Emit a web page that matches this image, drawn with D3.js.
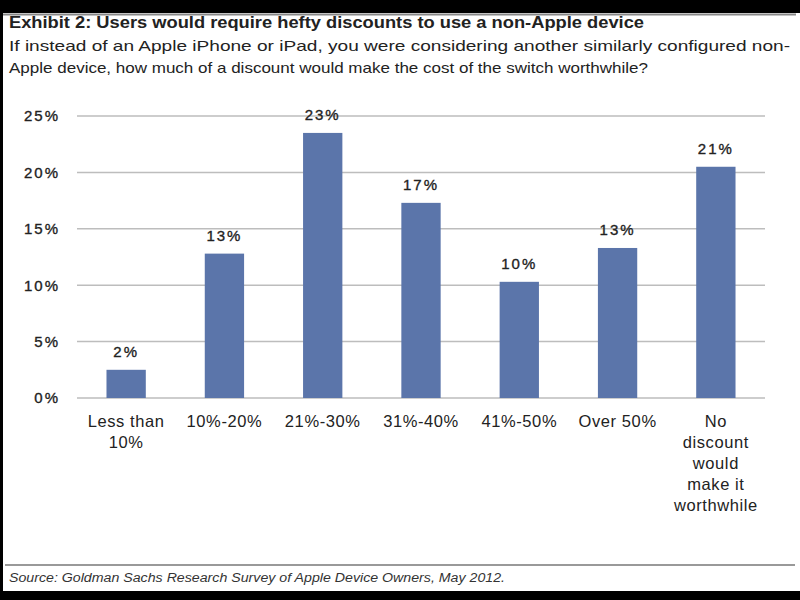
<!DOCTYPE html>
<html>
<head>
<meta charset="utf-8">
<script src="https://cdn.jsdelivr.net/npm/d3@7"></script>
<style>
  body { margin:0; background:#000; }
  svg { display:block; font-family: "Liberation Sans", Arial, sans-serif; }
</style>
</head>
<body>
<svg id="drawing_region"></svg>
<script>
const categories = ["Less than 10%", "10%-20%", "21%-30%", "31%-40%", "41%-50%", "Over 50%", "No discount would make it worthwhile"];
const categoryLines = [["Less than", "10%"], ["10%-20%"], ["21%-30%"], ["31%-40%"], ["41%-50%"], ["Over 50%"], ["No", "discount", "would", "make it", "worthwhile"]];
const values = [2.5, 12.8, 23.5, 17.3, 10.3, 13.3, 20.5];
const valueLabels = ["2%", "13%", "23%", "17%", "10%", "13%", "21%"];
const yTicks = [0, 5, 10, 15, 20, 25];

const width = 800, height = 600;
const svg = d3.select('#drawing_region')
  .attr('width', width)
  .attr('height', height);

// white page between black bands
svg.append('rect').attr('x', 0).attr('y', 0).attr('width', width).attr('height', height).attr('fill', '#000');
svg.append('rect').attr('x', 3).attr('y', 13).attr('width', width - 3).attr('height', 578).attr('fill', '#fff');
svg.append('line').attr('x1', 3).attr('x2', 796).attr('y1', 14.5).attr('y2', 14.5)
  .attr('stroke', '#888').attr('stroke-width', 2);

// titles
svg.append('text').attr('x', 9).attr('y', 28)
  .attr('font-size', 16).attr('font-weight', 'bold').attr('fill', '#222')
  .attr('textLength', 635).attr('lengthAdjust', 'spacingAndGlyphs')
  .text('Exhibit 2: Users would require hefty discounts to use a non-Apple device');
svg.append('text').attr('x', 9).attr('y', 51)
  .attr('font-size', 15).attr('fill', '#222')
  .attr('textLength', 781).attr('lengthAdjust', 'spacingAndGlyphs')
  .text('If instead of an Apple iPhone or iPad, you were considering another similarly configured non-');
svg.append('text').attr('x', 9).attr('y', 73)
  .attr('font-size', 15).attr('fill', '#222')
  .attr('textLength', 639).attr('lengthAdjust', 'spacingAndGlyphs')
  .text('Apple device, how much of a discount would make the cost of the switch worthwhile?');

const margin = {top: 116, left: 77, right: 35, bottom: 202};
const chart = svg.append('g').attr('transform', `translate(${margin.left}, ${margin.top})`);
const cw = width - margin.left - margin.right;
const ch = height - margin.top - margin.bottom;

const x = d3.scaleBand().domain(categories).range([0, cw]).paddingInner(0.6).paddingOuter(0.3);
const y = d3.scaleLinear().domain([0, 25]).range([ch, 0]);

// gridlines
chart.selectAll('.grid')
  .data(yTicks)
  .enter().append('line')
  .attr('x1', 0).attr('x2', cw)
  .attr('y1', d => y(d)).attr('y2', d => y(d))
  .attr('stroke', '#bdbdbd').attr('stroke-width', 1.5);

// y axis labels
const yAxis = d3.axisLeft(y).tickValues(yTicks).tickSize(0).tickPadding(17).tickFormat(d => d + '%');
const yg = chart.append('g').call(yAxis);
yg.select('.domain').remove();
yg.selectAll('text').attr('font-size', 15).attr('fill', '#222')
  .attr('letter-spacing', 2).attr('stroke', '#222').attr('stroke-width', 0.35)
  .attr('font-family', '"Liberation Sans", Arial, sans-serif');

// bars
chart.selectAll('.bar')
  .data(values)
  .enter().append('rect')
  .attr('x', (d, i) => x(categories[i]))
  .attr('y', d => y(d))
  .attr('width', x.bandwidth())
  .attr('height', d => ch - y(d))
  .attr('fill', '#5b75aa');

// value labels
chart.selectAll('.vlabel')
  .data(values)
  .enter().append('text')
  .attr('x', (d, i) => x(categories[i]) + x.bandwidth() / 2)
  .attr('y', d => y(d) - 13)
  .attr('text-anchor', 'middle')
  .attr('font-size', 15).attr('fill', '#222')
  .attr('letter-spacing', 2).attr('stroke', '#222').attr('stroke-width', 0.35)
  .text((d, i) => valueLabels[i]);

// category labels
const cl = chart.selectAll('.clabel')
  .data(categories)
  .enter().append('text')
  .attr('text-anchor', 'middle')
  .attr('font-size', 16.5).attr('fill', '#222')
  .attr('letter-spacing', 0.6)
  .attr('transform', d => `translate(${x(d) + x.bandwidth() / 2}, ${ch + 29})`);
cl.selectAll('tspan')
  .data((d, i) => categoryLines[i])
  .enter().append('tspan')
  .attr('x', 0)
  .attr('dy', (d, i) => i === 0 ? 0 : 21)
  .text(d => d);

// source
svg.append('line').attr('x1', 5).attr('x2', 795).attr('y1', 565).attr('y2', 565)
  .attr('stroke', '#777').attr('stroke-width', 1.5);
svg.append('text').attr('x', 9).attr('y', 582)
  .attr('font-size', 12.5).attr('font-style', 'italic').attr('fill', '#333')
  .attr('textLength', 496).attr('lengthAdjust', 'spacingAndGlyphs')
  .text('Source: Goldman Sachs Research Survey of Apple Device Owners, May 2012.');
</script>
</body>
</html>
